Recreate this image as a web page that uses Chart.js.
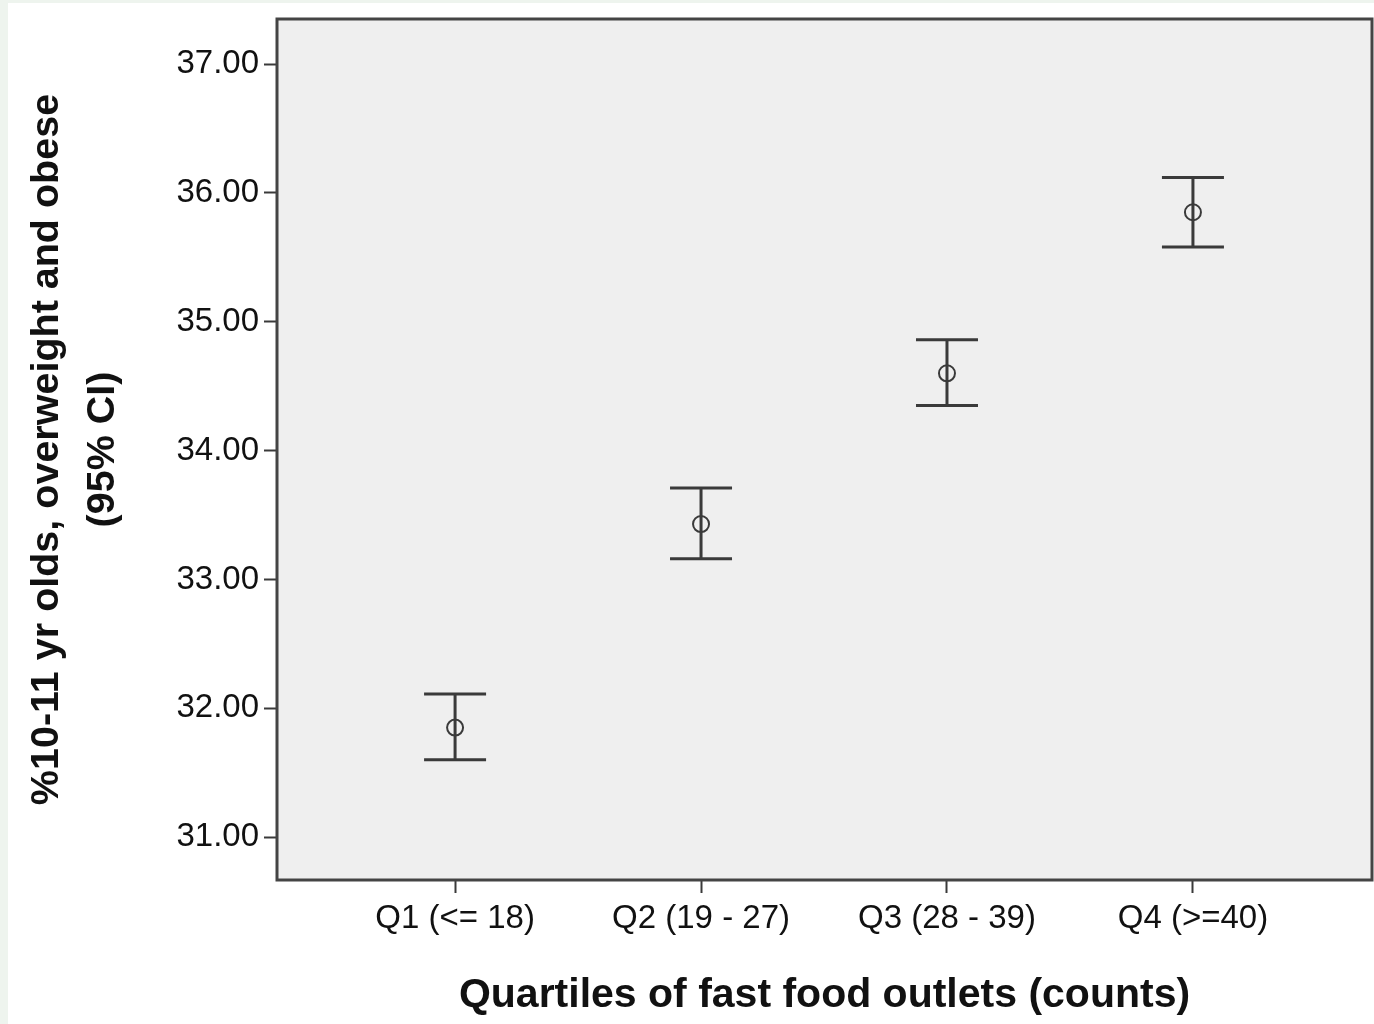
<!DOCTYPE html>
<html lang="en">
  <head>
    <meta charset="utf-8" />
    <title>Quartiles of fast food outlets</title>
    <style>
      * {
        margin: 0;
        padding: 0;
      }
      body {
        background: #ffffff;
        overflow: hidden;
      }
      .chartBox {
        width: 1374px;
        height: 1024px;
      }
    </style>
  </head>
  <body>
    <div class="chartBox">
      <canvas id="myChart"></canvas>
    </div>
    <script src="https://cdn.jsdelivr.net/npm/chart.js/dist/chart.umd.min.js"></script>
    <script>
      // data
      const categories = ["Q1 (<= 18)", "Q2 (19 - 27)", "Q3 (28 - 39)", "Q4 (>=40)"];
      const means = [31.85, 33.43, 34.6, 35.85];
      const lowerCI = [31.6, 33.16, 34.35, 35.58];
      const upperCI = [32.11, 33.71, 34.86, 36.12];
      const yTicks = [31, 32, 33, 34, 35, 36, 37];

      const lineColor = "#3a3a3a";
      const fontFamily = "'Liberation Sans', Arial, sans-serif";

      // page background + plot frame
      const framePlugin = {
        id: "frame",
        beforeDraw(chart) {
          const { ctx, width, height, chartArea: a } = chart;
          ctx.save();
          ctx.fillStyle = "#eef4ee";
          ctx.fillRect(0, 0, width, height);
          ctx.fillStyle = "#ffffff";
          ctx.fillRect(8, 3, width - 8, height - 3);
          ctx.fillStyle = "#efefef";
          ctx.fillRect(a.left, a.top, a.right - a.left, a.bottom - a.top);
          ctx.restore();
        },
        afterDraw(chart) {
          const { ctx, chartArea: a } = chart;
          ctx.save();
          ctx.strokeStyle = "#444";
          ctx.lineWidth = 3;
          ctx.strokeRect(a.left, a.top, a.right - a.left, a.bottom - a.top);
          ctx.restore();
        },
      };

      // vertical CI bars with caps
      const errorBars = {
        id: "errorBars",
        beforeDatasetsDraw(chart) {
          const { ctx, scales } = chart;
          const cap = 31;
          ctx.save();
          ctx.strokeStyle = lineColor;
          ctx.lineWidth = 3;
          means.forEach((m, i) => {
            const x = scales.x.getPixelForValue(i);
            const yl = scales.y.getPixelForValue(lowerCI[i]);
            const yu = scales.y.getPixelForValue(upperCI[i]);
            ctx.beginPath();
            ctx.moveTo(x, yu);
            ctx.lineTo(x, yl);
            ctx.moveTo(x - cap, yu);
            ctx.lineTo(x + cap, yu);
            ctx.moveTo(x - cap, yl);
            ctx.lineTo(x + cap, yl);
            ctx.stroke();
          });
          ctx.restore();
        },
      };

      const data = {
        datasets: [
          {
            label: "Mean",
            data: means.map((m, i) => ({ x: i, y: m })),
            pointStyle: "circle",
            pointRadius: 8,
            pointBorderWidth: 2,
            pointBorderColor: lineColor,
            pointBackgroundColor: "rgba(0,0,0,0)",
            showLine: false,
          },
        ],
      };

      const config = {
        type: "scatter",
        data,
        plugins: [framePlugin, errorBars],
        options: {
          responsive: true,
          maintainAspectRatio: false,
          animation: false,
          layout: { autoPadding: false, padding: { top: 19, right: 2, left: 0, bottom: 0 } },
          plugins: {
            legend: { display: false },
            tooltip: { enabled: false },
          },
          scales: {
            x: {
              type: "linear",
              min: -0.724,
              max: 3.728,
              afterBuildTicks(scale) {
                scale.ticks = categories.map((c, i) => ({ value: i }));
              },
              afterFit(scale) {
                scale.height = 144;
                scale.paddingLeft = 0;
                scale.paddingRight = 0;
              },
              grid: {
                drawOnChartArea: false,
                drawTicks: true,
                tickLength: 13,
                tickWidth: 2,
                tickColor: lineColor,
              },
              border: { display: false },
              ticks: {
                autoSkip: false,
                maxRotation: 0,
                padding: 6,
                color: "#111",
                font: { family: fontFamily, size: 33 },
                callback: (v) => categories[v],
              },
              title: {
                display: true,
                text: "Quartiles of fast food outlets (counts)",
                color: "#111",
                font: { family: fontFamily, size: 41, weight: "bold" },
                padding: { top: 0, bottom: 4 },
              },
            },
            y: {
              min: 30.667,
              max: 37.35,
              afterBuildTicks(scale) {
                scale.ticks = yTicks.map((v) => ({ value: v }));
              },
              afterFit(scale) {
                scale.width = 277;
                scale.paddingTop = 0;
                scale.paddingBottom = 0;
              },
              grid: {
                drawOnChartArea: false,
                drawTicks: true,
                tickLength: 13,
                tickWidth: 2,
                tickColor: lineColor,
              },
              border: { display: false },
              ticks: {
                padding: 5,
                color: "#111",
                font: { family: fontFamily, size: 33 },
                callback: (v) => v.toFixed(2),
              },
              title: {
                display: true,
                text: ["%10-11 yr olds, overweight and obese", "(95% CI)"],
                color: "#111",
                font: { family: fontFamily, size: 39.5, weight: "bold", lineHeight: 1.42 },
                padding: { top: 19, bottom: 0 },
              },
            },
          },
        },
      };

      const myChart = new Chart(document.getElementById("myChart"), config);
    </script>
  </body>
</html>
